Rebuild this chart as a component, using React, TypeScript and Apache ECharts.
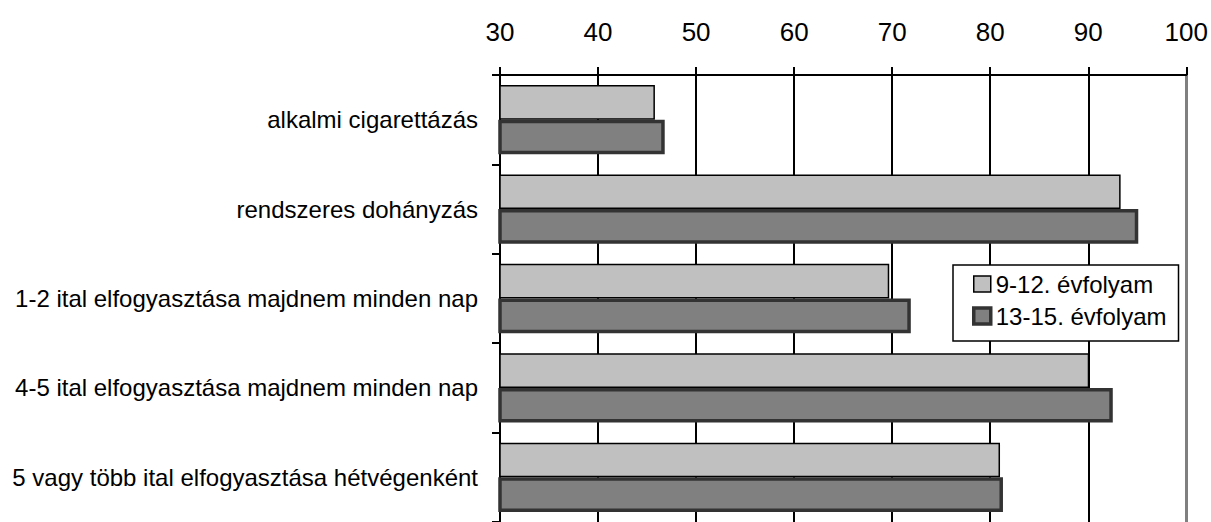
import React, { useEffect, useRef } from "react";
import * as echarts from "echarts";

const categories = [
  "alkalmi cigarettázás",
  "rendszeres dohányzás",
  "1-2 ital elfogyasztása majdnem minden nap",
  "4-5 ital elfogyasztása majdnem minden nap",
  "5 vagy több ital elfogyasztása hétvégenként",
];
const seriesNames = ["9-12. évfolyam", "13-15. évfolyam"];
const grade9to12 = [45.8, 93.3, 69.7, 90.1, 81.0];
const grade13to15 = [46.8, 95.1, 71.9, 92.5, 81.3];
const xTicks = { min: 30, max: 100, interval: 10 };

const FONT = "Liberation Sans, Arial, sans-serif";

export default function App() {
  const ref = useRef<HTMLDivElement>(null);
  useEffect(() => {
    const chart = echarts.init(ref.current!, undefined, { renderer: "svg" });
    chart.setOption({
      animation: false,
      backgroundColor: "#fff",
      grid: { left: 500, top: 75, right: 23, height: 454, containLabel: false },
      legend: {
        orient: "vertical",
        left: 953,
        top: 265,
        padding: [7, 12, 13, 19],
        itemGap: 8,
        itemWidth: 17,
        itemHeight: 16,
        backgroundColor: "#fff",
        borderColor: "#000",
        borderWidth: 1.5,
        borderRadius: 0,
        textStyle: { fontFamily: FONT, fontSize: 24, color: "#000", padding: [0, 0, 0, 0] },
        data: [
          { name: seriesNames[0], icon: "rect", itemStyle: { color: "#C0C0C0", borderColor: "#000", borderWidth: 1.5 } },
          { name: seriesNames[1], icon: "rect", itemStyle: { color: "#808080", borderColor: "#333", borderWidth: 3.5 } },
        ],
      },
      xAxis: {
        type: "value",
        position: "top",
        min: xTicks.min,
        max: xTicks.max,
        interval: xTicks.interval,
        axisLine: { show: true, lineStyle: { color: "#000", width: 2 } },
        axisTick: { show: true, inside: false, length: 8, lineStyle: { color: "#000", width: 2 } },
        splitLine: { show: true, lineStyle: { color: "#000", width: 2 } },
        axisLabel: {
          fontFamily: FONT,
          fontSize: 26,
          color: "#000",
          margin: 30,
        },
      },
      yAxis: [
        {
          type: "category",
          data: categories,
          inverse: true,
          axisLine: { show: true, lineStyle: { color: "#000", width: 2 } },
          axisTick: { show: true, inside: false, length: 8, lineStyle: { color: "#000", width: 2 } },
          axisLabel: { fontFamily: FONT, fontSize: 24, color: "#000", margin: 22 },
          splitLine: { show: false },
        },
        {
          type: "category",
          data: categories,
          inverse: true,
          position: "right",
          axisLine: { show: true, lineStyle: { color: "#808080", width: 3 } },
          axisTick: { show: false },
          axisLabel: { show: false },
          splitLine: { show: false },
        },
      ],
      series: [
        {
          name: seriesNames[0],
          type: "bar",
          data: grade9to12,
          barGap: "0%",
          barCategoryGap: "22.5%",
          itemStyle: { color: "#C0C0C0", borderColor: "#000", borderWidth: 1.5 },
          z: 2,
        },
        {
          name: seriesNames[1],
          type: "bar",
          data: grade13to15,
          barGap: "0%",
          barCategoryGap: "22.5%",
          itemStyle: { color: "#808080", borderColor: "#333", borderWidth: 3.5 },
          z: 3,
        },
      ],
    });
    return () => chart.dispose();
  }, []);
  return <div ref={ref} style={{ width: 1211, height: 522, position: "absolute", left: 0, top: 0 }} />;
}
